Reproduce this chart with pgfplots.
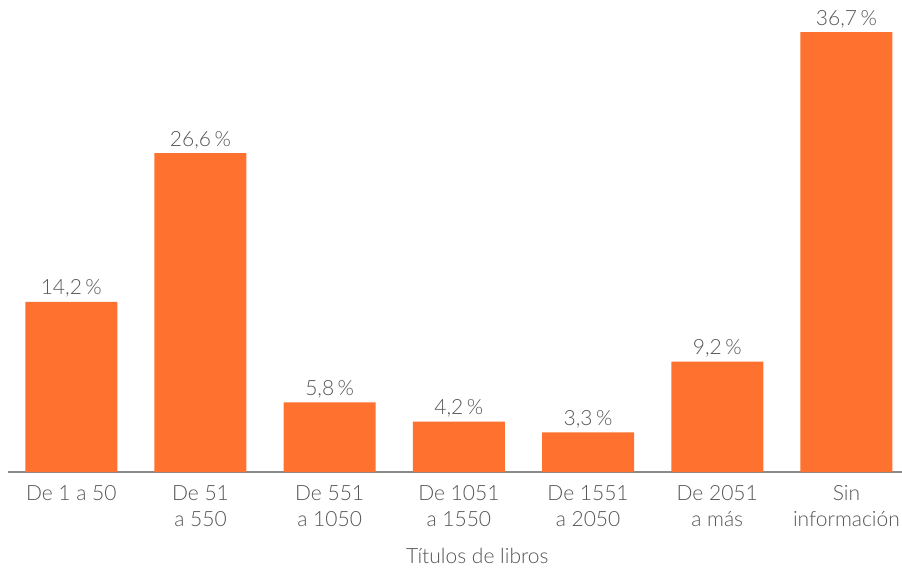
\documentclass[border=0pt]{standalone}
\usepackage{pgfplots}
\pgfplotsset{compat=1.18}
\usepackage{fontspec}
\setmainfont{Lato}[UprightFont=* Light]
\definecolor{barorange}{HTML}{FF712E}
\definecolor{txtgray}{HTML}{555555}
\definecolor{axgray}{HTML}{8A8A8A}

\begin{document}
\begin{tikzpicture}
\useasboundingbox (-4pt,-48.5pt) rectangle (447pt,236pt);
\begin{axis}[
    at={(0,0)}, anchor=south west,
    scale only axis,
    width=447pt, height=236pt,
    ybar, bar width=46pt,
    xmin=-0.49, xmax=6.43,
    ymin=0, ymax=39.37,
    axis x line=bottom, axis y line=none,
    x axis line style={-, draw=axgray, line width=0.8pt},
    xtick=data,
    xtick style={draw=none},
    xticklabels={{De 1 a 50},{De 51\\a 550},{De 551\\a 1050},{De 1051\\a 1550},{De 1551\\a 2050},{De 2051\\a más},{Sin\\información}},
    xticklabel style={align=center, text=txtgray, font=\fontsize{10.5}{13}\selectfont, anchor=north, yshift=-1pt},
    xlabel={Títulos de libros},
    xlabel style={at={(axis description cs:0.525,0)}, anchor=base, yshift=-45.5pt, text=txtgray, font=\fontsize{10.5}{13}\selectfont},
    /pgf/number format/assume math mode=true,
    nodes near coords={\pgfmathprintnumber[use comma, fixed, fixed zerofill, precision=1]{\pgfplotspointmeta}\,\%},
    every node near coord/.append style={anchor=base, yshift=3.5pt, text=txtgray, font=\fontsize{10.5}{13}\selectfont},
    clip=false,
]
\addplot[fill=barorange, draw=none] coordinates {
    (0,14.2) (1,26.6) (2,5.8) (3,4.2) (4,3.3) (5,9.2) (6,36.7)
};
\end{axis}
\end{tikzpicture}
\end{document}
